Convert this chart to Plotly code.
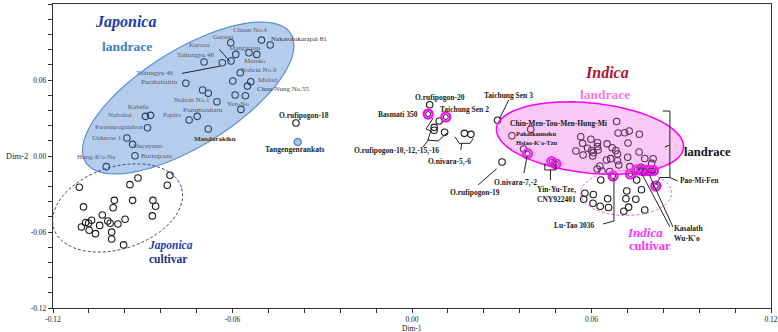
import math
import plotly.graph_objects as go

# ---------------- data ----------------
jap_land_x = [-0.0606, -0.0503, -0.0474, -0.0589, -0.0545, -0.0519, -0.0695, -0.0634, -0.0605, -0.0574,
              -0.0539, -0.0550, -0.0599, -0.0756, -0.0700, -0.0681, -0.0591, -0.0557, -0.0652, -0.0572,
              -0.0718, -0.0745, -0.0891, -0.0874, -0.0884, -0.0681, -0.0953, -0.0934, -0.0926, -0.1022]
jap_land_y = [0.0894, 0.0915, 0.0876, 0.0802, 0.0815, 0.0802, 0.0742, 0.0736, 0.0750, 0.0657,
              0.0586, 0.0552, 0.0592, 0.0574, 0.0521, 0.0495, 0.0481, 0.0476, 0.0428, 0.0368,
              0.0313, 0.0284, 0.0313, 0.0321, 0.0223, 0.0213, 0.0142, 0.0092, 0.0002, -0.0084]

jap_cult_x = [-0.1112, -0.0916, -0.0943, -0.0809, -0.0818, -0.1098, -0.0995, -0.0934, -0.0866, -0.0857,
              -0.0999, -0.1035, -0.0868, -0.0959, -0.0983, -0.1017, -0.1009, -0.1044, -0.1071, -0.1091,
              -0.1081, -0.1105, -0.1079, -0.1058, -0.1004, -0.1004, -0.0964]
jap_cult_y = [-0.0247, -0.0174, -0.0226, -0.0152, -0.0231, -0.0402, -0.0350, -0.0350, -0.0350, -0.0397,
              -0.0408, -0.0466, -0.0473, -0.0499, -0.0537, -0.0513, -0.0531, -0.0548, -0.0507, -0.0525,
              -0.0531, -0.0560, -0.0586, -0.0613, -0.0601, -0.0655, -0.0702]

wild_x = [-0.0388, 0.0059, 0.0091, 0.0074, 0.0074, 0.0109, 0.0175, 0.0197, 0.0301, 0.0286, 0.0397, 0.0334, 0.0373]
wild_y = [0.0260, 0.0405, 0.0276, 0.0226, 0.0203, 0.0187, 0.0179, 0.0171, -0.0047, 0.0282, 0.0211, 0.0160, 0.0055]

ind_land_x = [0.0684, 0.0564, 0.0598, 0.0570, 0.0620, 0.0689, 0.0711, 0.0726, 0.0760, 0.0722,
              0.0652, 0.0669, 0.0681, 0.0687, 0.0587, 0.0600, 0.0622, 0.0620, 0.0606, 0.0548,
              0.0572, 0.0604, 0.0759, 0.0721, 0.0778, 0.0806, 0.0801, 0.0650, 0.0664, 0.0687,
              0.0691, 0.0628, 0.0619, 0.0728, 0.0766, 0.0782, 0.0661, 0.0635]
ind_land_y = [0.0272, 0.0152, 0.0132, 0.0100, 0.0105, 0.0181, 0.0184, 0.0197, 0.0172, 0.0103,
              0.0096, 0.0065, 0.0043, 0.0016, 0.0061, 0.0043, 0.0047, 0.0075, 0.0026, 0.0039,
              0.0008, 0.0000, 0.0032, -0.0010, -0.0020, -0.0022, -0.0058, -0.0032, -0.0021, -0.0037,
              -0.0071, -0.0079, -0.0103, -0.0084, -0.0089, -0.0100, -0.0122, -0.0118]

ind_cult_x = [0.0631, 0.0751, 0.0578, 0.0606, 0.0574, 0.0718, 0.0767, 0.0715, 0.0748, 0.0654,
              0.0605, 0.0629, 0.0657, 0.0724, 0.0708, 0.0778]
ind_cult_y = [-0.0189, -0.0189, -0.0294, -0.0304, -0.0342, -0.0276, -0.0266, -0.0338, -0.0342, -0.0338,
              -0.0373, -0.0397, -0.0406, -0.0404, -0.0436, -0.0426]

hl_x = [0.0054, 0.0113, 0.0386, 0.0467, 0.0481, 0.0751, 0.0767, 0.0779, 0.0795, 0.0807, 0.0730, 0.0672, 0.0815]
hl_y = [0.0331, 0.0308, 0.0018, -0.0045, -0.0063, -0.0110, -0.0113, -0.0116, -0.0116, -0.0116, -0.0142, -0.0158, -0.0237]

tang_x = [-0.0382]
tang_y = [0.0110]

tick_vals = [-0.12, -0.06, 0.0, 0.06, 0.12]
tick_text = ["-0.12", "-0.06", "0.00", "0.06", "0.12"]

# ---------------- layout constants ----------------
W, H = 778, 332
ML, MR, MT, MB = 53, 7, 4, 24
XU = 0.24 / (W - ML - MR)   # data units per pixel
YU = 0.24 / (H - MT - MB)
SERIF = "Liberation Serif"


def ellipse_path(cx, cy, a_px, b_px, ang_deg, n=90):
    t = math.radians(ang_deg)
    pts = []
    for i in range(n + 1):
        s = 2 * math.pi * i / n
        dx = a_px * math.cos(s) * math.cos(t) - b_px * math.sin(s) * math.sin(t)
        dy = a_px * math.cos(s) * math.sin(t) + b_px * math.sin(s) * math.cos(t)
        pts.append((cx + dx * XU, cy + dy * YU))
    return "M " + " L ".join(f"{x:.5f},{y:.5f}" for x, y in pts) + " Z"


def poly_path(pts):
    return "M " + " L ".join(f"{x},{y}" for x, y in pts)


fig = go.Figure()

ring = dict(symbol="circle-open", size=6.5, line=dict(width=1.1), color="#1a1a1a")
for xs, ys in [(jap_land_x, jap_land_y), (jap_cult_x, jap_cult_y), (wild_x, wild_y),
               (ind_land_x, ind_land_y), (ind_cult_x, ind_cult_y)]:
    fig.add_trace(go.Scatter(x=xs, y=ys, mode="markers", marker=ring, hoverinfo="skip", showlegend=False))

fig.add_trace(go.Scatter(x=hl_x, y=hl_y, mode="markers", showlegend=False, hoverinfo="skip",
                         marker=dict(symbol="circle-open", size=9, color="#ff00ff", line=dict(width=2.2))))
fig.add_trace(go.Scatter(x=hl_x, y=hl_y, mode="markers", showlegend=False, hoverinfo="skip",
                         marker=dict(symbol="circle-open", size=5, color="#1a1a1a", line=dict(width=1))))
fig.add_trace(go.Scatter(x=tang_x, y=tang_y, mode="markers", showlegend=False, hoverinfo="skip",
                         marker=dict(symbol="circle", size=7, color="#a9c8ea", line=dict(width=1.6, color="#5a8cc8"))))

shapes = []
# ellipses
shapes.append(dict(type="path", path=ellipse_path(-0.0748, 0.0458, 121, 48, 32), layer="above",
                   fillcolor="rgba(70,130,210,0.40)", line=dict(color="#5b8fd0", width=1.2)))
shapes.append(dict(type="path", path=ellipse_path(-0.0984, -0.0410, 67, 41, 18), layer="above",
                   fillcolor="rgba(0,0,0,0)", line=dict(color="#3b4a8c", width=1, dash="3px,2px")))
shapes.append(dict(type="path", path=ellipse_path(0.0595, 0.0142, 94, 35, -6), layer="above",
                   fillcolor="rgba(240,90,230,0.33)", line=dict(color="#ff00ff", width=1.5)))
shapes.append(dict(type="path", path=ellipse_path(0.0716, -0.0292, 45.5, 22.5, 0), layer="above",
                   fillcolor="rgba(0,0,0,0)", line=dict(color="#f060f0", width=1, dash="3px,2px")))

connectors = [
    [(-0.0769, 0.0652), (-0.0641, 0.0710)],
    [(-0.0644, 0.0842), (-0.0608, 0.0744)],
    [(0.0323, 0.0442), (0.0292, 0.0290)],
    [(0.0221, -0.0229), (0.0283, -0.0100)],
    [(0.0374, -0.0136), (0.0385, 0.0002)],
    [(0.0638, -0.0537), (0.0675, -0.0513), (0.0675, -0.0174)],
    [(0.0444, -0.0058), (0.0444, -0.0110), (0.0481, -0.0110), (0.0481, -0.0063)],
    [(0.0463, -0.0110), (0.0463, -0.0189)],
    [(0.0815, -0.0229), (0.0829, -0.0170), (0.0862, -0.0170), (0.0888, -0.0197)],
    [(0.0765, -0.0126), (0.0862, -0.0560)],
    [(0.0792, -0.0142), (0.0872, -0.0560)],
    [(0.0838, 0.0355), (0.0862, 0.0355), (0.0862, -0.0174)],
    [(0.0862, 0.0087), (0.0845, 0.0071)],
    [(0.0072, 0.0304), (0.0047, 0.0213), (0.0063, 0.0197), (0.0053, 0.0126), (0.0087, 0.0118), (0.0117, 0.0181)],
    [(0.0057, 0.0134), (0.0037, 0.0071)],
    [(0.0144, 0.0152), (0.0158, 0.0100), (0.0194, 0.0100), (0.0205, 0.0139)],
    [(0.0166, 0.0100), (0.0163, 0.0047)],
]
for c in connectors:
    shapes.append(dict(type="path", path=poly_path(c), layer="above", line=dict(color="#222", width=1)))

annotations = []


def lab(text, x, y, size, color, bold=False, italic=False, xanchor="center"):
    t = text
    if bold:
        t = f"<b>{t}</b>"
    if italic:
        t = f"<i>{t}</i>"
    annotations.append(dict(x=x, y=y, xref="x", yref="y", text=t, showarrow=False, xanchor=xanchor,
                            yanchor="middle", font=dict(family=SERIF, size=size, color=color)))


gray_labels = [("Chuan No.4", -0.0543, 0.0994), ("Gurusu", -0.0630, 0.0937), ("Kuroca", -0.0710, 0.0876),
               ("Mangarusu", -0.0557, 0.0854), ("Taitungyu 48", -0.0722, 0.0797), ("Mutsko", -0.0525, 0.0750),
               ("Taitungyu 46", -0.0858, 0.0657), ("Nohrin No.9", -0.0510, 0.0676), ("Purahaitairin", -0.0845, 0.0581),
               ("Midori", -0.0483, 0.0600), ("Nohrin No.1", -0.0734, 0.0442), ("Yen-No", -0.0580, 0.0410),
               ("Kabefu", -0.0915, 0.0384), ("Pazumatsharu", -0.0697, 0.0363), ("Nabohai", -0.0975, 0.0323),
               ("Papito", -0.0801, 0.0323), ("Paotsupogaiahon", -0.0978, 0.0231), ("Unknow 1", -0.1020, 0.0140),
               ("Sinceynuo", -0.0884, 0.0081), ("Buriegrazu", -0.0853, 0.0000), ("Hung-K'o-Na", -0.1053, -0.0006)]
for t, x, y in gray_labels:
    lab(t, x, y, 7, "#55596a")

lab("Nakarofukarapai 81", -0.0478, 0.0926, 7, "#333", xanchor="left")
lab("Chun-Nung No.55", -0.0524, 0.0526, 7, "#444", xanchor="left")
lab("Mandarakiku", -0.0658, 0.0134, 7, "#333", bold=True)
lab("O.rufipogon-18", -0.0361, 0.0318, 7.5, "#222", bold=True)
lab("Tangengenrankats", -0.0394, 0.0055, 7.5, "#222", bold=True)

black_labels = [("O.rufipogon-20", 0.0092, 0.0462), ("Taichung Sen 2", 0.0177, 0.0365),
                ("Basmati 350", -0.0047, 0.0331), ("Taichung Sen 3", 0.0322, 0.0481),
                ("O.rufipogon-10,-12,-15,-16", -0.0053, 0.0047), ("O.nivara-5,-6", 0.0127, -0.0045),
                ("O.rufipogon-19", 0.0209, -0.0286), ("O.nivara-7,-2", 0.0347, -0.0208),
                ("Chin-Men-Tou-Men-Hung-Mi", 0.0491, 0.0260), ("Yin-Yu-Tze,", 0.0484, -0.0268),
                ("CNY922401", 0.0484, -0.0347), ("Lu-Tao 3036", 0.0544, -0.0552),
                ("Pao-Mi-Fen", 0.0962, -0.0197), ("Kasalath", 0.0925, -0.0576), ("Wu-K'o", 0.0918, -0.0655)]
for t, x, y in black_labels:
    lab(t, x, y, 7.5, "#1a1a1a", bold=True)
lab("Pakaikauneku", 0.0414, 0.0174, 6.5, "#1a1a1a", bold=True)
lab("Hsiao-K'o-Tzu", 0.0418, 0.0103, 6.5, "#1a1a1a", bold=True)

lab("Japonica", -0.0959, 0.1057, 16, "#1b3ba5", bold=True, italic=True)
lab("landrace", -0.0952, 0.0868, 13.5, "#3b7ccc", bold=True)
lab("Japonica", -0.0808, -0.0710, 11.5, "#1f3ea8", bold=True, italic=True)
lab("cultivar", -0.0815, -0.0813, 11.5, "#1a2f8a", bold=True)
lab("Indica", 0.0651, 0.0663, 16, "#b0122c", bold=True, italic=True)
lab("landrace", 0.0645, 0.0489, 13.5, "#f27ad6", bold=True)
lab("landrace", 0.0989, 0.0032, 12.5, "#111", bold=True)
lab("Indica", 0.0778, -0.0600, 13, "#ff33ff", bold=True, italic=True)
lab("cultivar", 0.0795, -0.0710, 12.5, "#ff33ff", bold=True)

annotations.append(dict(x=0.0, y=-0.069, xref="x", yref="paper", text="Dim-1", showarrow=False,
                        xanchor="center", yanchor="middle", font=dict(family=SERIF, size=7.5, color="#222")))
annotations.append(dict(x=-0.068, y=0.0, xref="paper", yref="y", text="Dim-2", showarrow=False,
                        xanchor="left", yanchor="middle", font=dict(family=SERIF, size=8.5, color="#222")))

axis_common = dict(showgrid=False, zeroline=False, showline=True, linecolor="#333", linewidth=1.2,
                   mirror=True, ticks="outside", ticklen=4, tickwidth=1, tickcolor="#333",
                   tickvals=tick_vals, ticktext=tick_text, automargin=False,
                   tickfont=dict(family=SERIF, size=7.5, color="#222"),
                   minor=dict(dtick=0.012, tick0=0, ticks="outside", ticklen=4, tickwidth=1, tickcolor="#333"))

fig.update_layout(
    width=W, height=H, margin=dict(l=ML, r=MR, t=MT, b=MB),
    paper_bgcolor="white", plot_bgcolor="white",
    xaxis=dict(range=[-0.12, 0.12], **axis_common),
    yaxis=dict(range=[-0.12, 0.12], **axis_common),
    shapes=shapes, annotations=annotations,
)

fig.write_html("out.html", config={"displayModeBar": False, "staticPlot": True},
               post_script="document.body.style.margin='0';document.body.style.overflow='hidden';")
